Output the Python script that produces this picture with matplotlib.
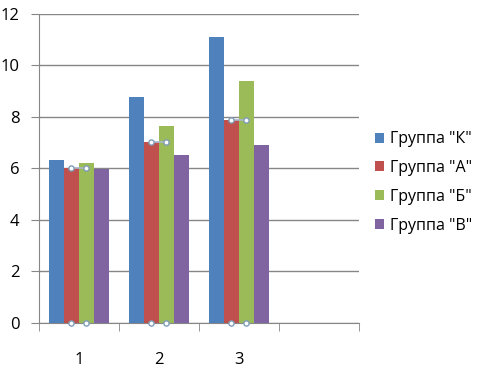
import numpy as np
import matplotlib.pyplot as plt

# Values
categories = ["1", "2", "3", ""]
series_names = ['Группа "К"', 'Группа "А"', 'Группа "Б"', 'Группа "В"']
group_k = [6.33, 8.78, 11.1, 0]
group_a = [6.02, 7.03, 7.88, 0]
group_b = [6.2, 7.65, 9.4, 0]
group_v = [5.98, 6.52, 6.91, 0]
colors = ['#4F81BD', '#C0504D', '#9BBB59', '#8064A2']

plt.rcParams['font.family'] = ['Open Sans', 'DejaVu Sans']

fig = plt.figure(figsize=(4.81, 3.78), dpi=100)
ax = fig.add_axes([0.081, 0.1455, 0.665, 0.8175])

x = np.arange(len(categories))
width = 0.1875
series = [group_k, group_a, group_b, group_v]
for i, (vals, name, c) in enumerate(zip(series, series_names, colors)):
    offs = (i - 1.5) * width
    ax.bar(x + offs, vals, width=width, color=c, label=name, zorder=3)

# selection handles on the "А" series
handle_x = []
handle_y = []
for xi, v in zip(x[:3], group_a[:3]):
    left = xi - 0.5 * width
    right = xi + 0.5 * width
    handle_x += [left, right, left, right]
    handle_y += [v, v, 0, 0]
    ax.plot([left, right], [v, v], color='#A9B8CC', lw=1.2, zorder=4)
ax.scatter(handle_x, handle_y, s=14, facecolor='white', edgecolor='#7F9DB9',
           linewidth=1, zorder=5, clip_on=False)

ax.set_xlim(-0.5, 3.5)
ax.set_ylim(0, 12)
ax.set_yticks(range(0, 13, 2))
ax.yaxis.grid(True, color='#868686', lw=1, zorder=0)
ax.set_xticks(x[:3])
ax.set_xticklabels(categories[:3])
ax.set_xticks(np.arange(-0.5, 4, 1), minor=True)
ax.tick_params(axis='x', which='major', length=0, pad=21, labelsize=12)
ax.tick_params(axis='x', which='minor', length=6, color='#868686', direction='out')
ax.tick_params(axis='y', length=6, color='#868686', pad=8, labelsize=12)

for s in ['top', 'right']:
    ax.spines[s].set_visible(False)
for s in ['left', 'bottom']:
    ax.spines[s].set_color('#868686')

ax.legend(loc='center left', bbox_to_anchor=(1.005, 0.455), frameon=False,
          fontsize=11.5, handlelength=0.6, handleheight=0.6, handletextpad=0.35,
          labelspacing=0.8)

fig.savefig('out.png', dpi=100)
